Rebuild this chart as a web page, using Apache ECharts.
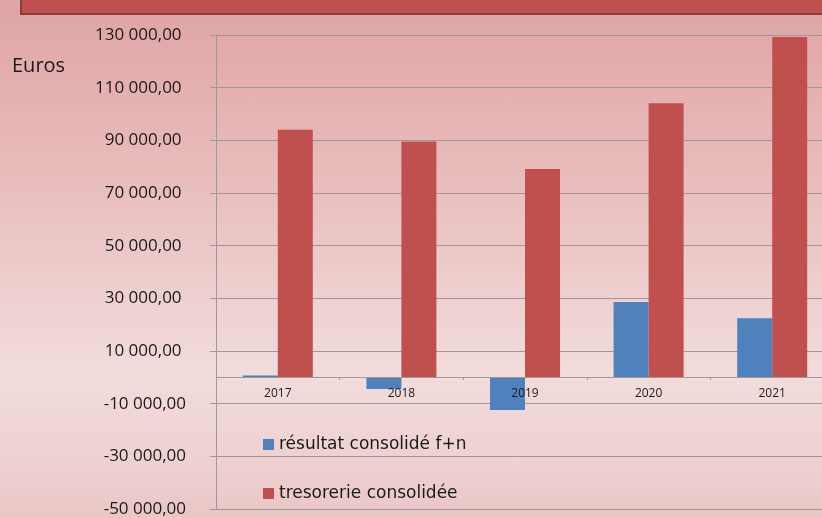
<!DOCTYPE html>
<html>
<head>
<meta charset="utf-8">
<script src="https://cdn.jsdelivr.net/npm/echarts@6/dist/echarts.min.js"></script>
<style>
  html, body { margin: 0; padding: 0; }
  #chart {
    width: 822px;
    height: 518px;
    background: linear-gradient(180deg, #dfa4a4 0%, #e9bdbd 35%, #f2dcdc 72%, #eed0d0 90%, #eac6c6 100%);
  }
</style>
</head>
<body>
<div id="chart"></div>
<script>
const years = ['2017', '2018', '2019', '2020', '2021']
const resultat = [700, -4400, -12400, 28600, 22400]
const tresorerie = [94000, 89600, 79100, 104100, 129200]
const seriesNames = ['résultat consolidé f+n', 'tresorerie consolidée']

const font = '"Open Sans", "Liberation Sans", sans-serif'

function fmt(v) {
  const s = Math.abs(v).toFixed(0).replace(/\B(?=(\d{3})+(?!\d))/g, ' ') + ',00'
  return v < 0 ? '-' + s : s + ' '
}

const chart = echarts.init(document.getElementById('chart'))

chart.setOption({
  animation: false,
  textStyle: { fontFamily: font },
  graphic: [
    {
      type: 'rect',
      shape: { x: 21, y: -4, width: 820, height: 18 },
      style: { fill: '#c0504d', stroke: '#8f3a38', lineWidth: 2 }
    },
    {
      type: 'text',
      left: 12,
      top: 56,
      style: { text: 'Euros', fontSize: 20, fontFamily: font, fill: '#1a1a1a' }
    }
  ],
  legend: {
    orient: 'vertical',
    left: 258,
    top: 431,
    icon: 'rect',
    itemWidth: 11,
    itemHeight: 11,
    itemGap: 32,
    textStyle: { fontSize: 17, color: '#1a1a1a', fontFamily: '"DejaVu Sans", sans-serif' },
    data: seriesNames
  },
  grid: {
    left: 216,
    right: -12,
    top: 35,
    bottom: 9,
    containLabel: false,
    outerBoundsMode: 'none'
  },
  xAxis: {
    type: 'category',
    data: years,
    position: 'bottom',
    offset: -132,
    z: 5,
    axisLine: { onZero: false, lineStyle: { color: '#9a9a9a', width: 1 } },
    axisTick: { show: true, length: 3, lineStyle: { color: '#9a9a9a' } },
    axisLabel: { fontSize: 12, color: '#1a1a1a', margin: 11 },
    splitLine: { show: false }
  },
  yAxis: {
    type: 'value',
    min: -50000,
    max: 130000,
    interval: 20000,
    axisLine: { show: true, lineStyle: { color: '#9a9a9a', width: 1 } },
    axisTick: { show: true, length: 6, lineStyle: { color: '#9a9a9a' } },
    axisLabel: { fontSize: 17, color: '#1a1a1a', margin: 30, formatter: fmt },
    splitLine: { show: true, lineStyle: { color: '#a09696', width: 1 } }
  },
  series: [
    {
      name: seriesNames[0],
      type: 'bar',
      data: resultat,
      barWidth: 35,
      barGap: '0%',
      itemStyle: { color: '#4f81bd' }
    },
    {
      name: seriesNames[1],
      type: 'bar',
      data: tresorerie,
      barWidth: 35,
      barGap: '0%',
      itemStyle: { color: '#c0504d' }
    }
  ]
})
</script>
</body>
</html>
